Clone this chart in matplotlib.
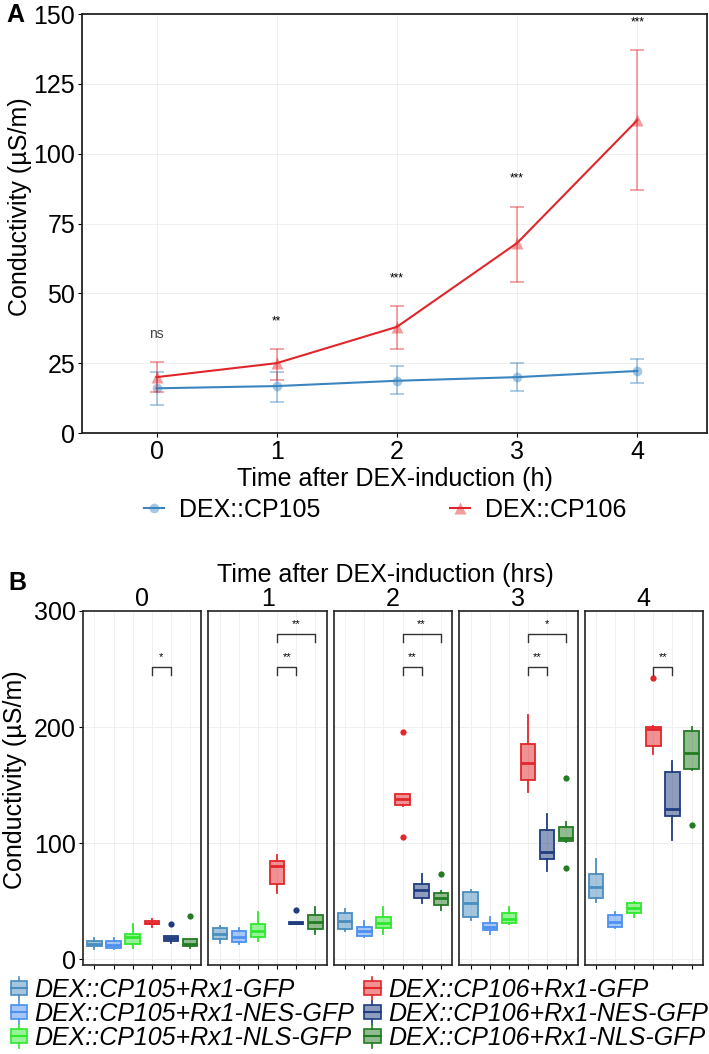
import matplotlib.pyplot as plt
from matplotlib.lines import Line2D
from matplotlib.patches import Rectangle
from matplotlib.legend_handler import HandlerBase
import matplotlib.colors as mcolors

plt.rcParams['font.family'] = ['Liberation Sans', 'DejaVu Sans']

# ---- panel A: mean conductivity over time
hours = [0, 1, 2, 3, 4]
cp105_mean = [16, 16.8, 18.7, 20, 22.2]
cp105_lo = [10, 11, 14, 15, 18]
cp105_hi = [22, 22, 24, 25, 26.5]
cp106_mean = [20, 25, 38, 68, 112]
cp106_lo = [14.5, 19, 30, 54, 87]
cp106_hi = [25.5, 30, 45.5, 81, 137]
signif_a = ['ns', '**', '***', '***', '***']

# ---- panel B: boxplots (whislo, q1, med, q3, whishi) per hour
groups = ['DEX::CP105+Rx1-GFP', 'DEX::CP105+Rx1-NES-GFP', 'DEX::CP105+Rx1-NLS-GFP',
          'DEX::CP106+Rx1-GFP', 'DEX::CP106+Rx1-NES-GFP', 'DEX::CP106+Rx1-NLS-GFP']
cp105_gfp = [(9, 11, 13, 16, 18), (14, 17, 22, 27, 29), (24, 26, 33, 40, 43),
             (34, 36, 48, 58, 60), (49, 53, 62, 73, 86)]
cp105_nes = [(9, 10, 12, 16, 18), (13, 15, 19, 24, 27), (19, 20, 24, 28, 33),
             (22, 25, 28, 31, 36), (27, 28, 32, 38, 41)]
cp105_nls = [(10, 13, 19, 22, 30), (16, 19, 24, 30, 41), (22, 27, 31, 36, 45),
             (30, 31, 35, 40, 45), (36, 40, 44, 48, 49)]
cp106_gfp = [(28, 30, 31, 33, 35), (57, 65, 80, 85, 90), (132, 133, 138, 142, 142),
             (144, 154, 169, 185, 210), (177, 184, 198, 200, 201)]
cp106_nes = [(14, 16, 18, 20, 20), (30, 30, 31, 32, 32), (48, 53, 60, 65, 73),
             (76, 86, 92, 111, 125), (103, 123, 129, 161, 171)]
cp106_nls = [(10, 11, 13, 17, 17), (22, 26, 32, 38, 45), (42, 47, 53, 57, 59),
             (101, 102, 104, 114, 118), (163, 164, 178, 197, 200)]
no_out = [[], [], [], [], []]
cp106_gfp_out = [[], [], [196, 105], [], [242]]
cp106_nes_out = [[30], [42], [], [], []]
cp106_nls_out = [[37], [], [73], [156, 79], [116]]
signif_b = [[(4, 5, '*')],
            [(4, 5, '**'), (4, 6, '**')],
            [(4, 5, '**'), (4, 6, '**')],
            [(4, 5, '**'), (4, 6, '*')],
            [(4, 5, '**')]]

box_data = [cp105_gfp, cp105_nes, cp105_nls, cp106_gfp, cp106_nes, cp106_nls]
box_out = [no_out, no_out, no_out, cp106_gfp_out, cp106_nes_out, cp106_nls_out]
box_colors = ['#4A8DBE', '#4D90F0', '#2EE82E', '#E3262B', '#1F3D7F', '#237B23']

blue = '#3A85C0'
red = '#E0252B'
FS = 18

fig = plt.figure(figsize=(7.09, 10.54), dpi=100)

# ================= panel A
axA = fig.add_axes([82 / 709, 1 - 433 / 1054, 625 / 709, 419 / 1054])
for mean, lo, hi, c, m, ms in [(cp105_mean, cp105_lo, cp105_hi, blue, 'o', 7),
                               (cp106_mean, cp106_lo, cp106_hi, red, '^', 8)]:
    yerr = [[a - b for a, b in zip(mean, lo)], [b - a for a, b in zip(mean, hi)]]
    axA.errorbar(hours, mean, yerr=yerr, fmt='none', ecolor=c, alpha=0.45,
                 elinewidth=1.3, capsize=4.8, capthick=1.3)
    axA.plot(hours, mean, color=c, lw=1.5, marker=m, ms=ms,
             mfc=mcolors.to_rgba(c, 0.45), mec='none')

for x, hi, lab in zip(hours, cp106_hi, signif_a):
    axA.text(x, hi + 10, lab, ha='center', va='center',
             fontsize=10 if lab == 'ns' else 8.5,
             color='#444444' if lab == 'ns' else 'black')

axA.set_xlim(-0.62, 4.58)
axA.set_ylim(0, 150)
axA.set_yticks([0, 25, 50, 75, 100, 125, 150])
axA.set_xticks(hours)
axA.grid(color='#EDEDED', lw=0.6)
axA.set_axisbelow(True)
axA.tick_params(labelsize=FS, length=3, width=0.8, pad=2)
for s in axA.spines.values():
    s.set_linewidth(1.3)
    s.set_color('#222222')
axA.set_xlabel('Time after DEX-induction (h)', fontsize=FS, labelpad=2)
axA.set_ylabel('Conductivity (µS/m)', fontsize=FS)
axA.yaxis.set_label_coords(-0.08, 0.54)

handlesA = [Line2D([], [], color=blue, lw=1.5, marker='o', ms=7,
                   mfc=mcolors.to_rgba(blue, 0.45), mec='none'),
            Line2D([], [], color=red, lw=1.5, marker='^', ms=8,
                   mfc=mcolors.to_rgba(red, 0.45), mec='none')]
fig.legend(handlesA, ['DEX::CP105', 'DEX::CP106'], loc='center',
           bbox_to_anchor=(0.543, 1 - 510 / 1054), ncol=2, frameon=False,
           fontsize=FS, handlelength=0.8, handletextpad=0.6, columnspacing=5.2)
fig.text(0.022, 0.986, 'A', fontsize=FS, fontweight='bold', ha='center', va='center')

# ================= panel B
left, right = 83 / 709, 703 / 709
top, bottom = 1 - 611 / 1054, 1 - 965 / 1054
gap = 7 / 709
w = (right - left - 4 * gap) / 5
axesB = []
for k in range(5):
    ax = fig.add_axes([left + k * (w + gap), bottom, w, top - bottom])
    axesB.append(ax)
    for g in range(6):
        lo_w, q1, med, q3, hi_w = box_data[g][k]
        st = [dict(whislo=lo_w, q1=q1, med=med, q3=q3, whishi=hi_w, fliers=box_out[g][k])]
        c = box_colors[g]
        ax.bxp(st, positions=[g + 1], widths=0.75, patch_artist=True,
               showcaps=False, manage_ticks=False,
               boxprops=dict(facecolor=mcolors.to_rgba(c, 0.5), edgecolor=c, lw=1.3),
               medianprops=dict(color=c, lw=2),
               whiskerprops=dict(color=c, lw=1.3),
               flierprops=dict(marker='o', ms=4.5, mfc=c, mec='none'))
    for x1, x2, lab in signif_b[k]:
        yb = 252 if x2 - x1 == 1 else 280
        ax.plot([x1, x1, x2, x2], [yb - 7, yb, yb, yb - 7], color='#333333', lw=1)
        ax.text((x1 + x2) / 2, yb + 4, lab, ha='center', va='bottom', fontsize=8)
    ax.set_xlim(0.4, 6.6)
    ax.set_ylim(-5, 300)
    ax.set_xticks(range(1, 7))
    ax.set_xticklabels([])
    ax.set_yticks([0, 100, 200, 300])
    ax.grid(color='#EDEDED', lw=0.6)
    ax.set_axisbelow(True)
    ax.tick_params(labelsize=FS, length=3, width=0.8, pad=2)
    for s in ax.spines.values():
        s.set_linewidth(1.2)
        s.set_color('#222222')
    ax.set_title(str(hours[k]), fontsize=FS, pad=0)
    if k > 0:
        ax.tick_params(axis='y', left=False, labelleft=False)

axesB[0].set_ylabel('Conductivity (µS/m)', fontsize=FS)
axesB[0].yaxis.set_label_coords(-0.47, 0.5225)
fig.text(0.543, 1 - 575 / 1054, 'Time after DEX-induction (hrs)', fontsize=FS,
         ha='center', va='center')
fig.text(0.025, 1 - 583 / 1054, 'B', fontsize=FS, fontweight='bold', ha='center', va='center')


class BoxKey(HandlerBase):
    def create_artists(self, legend, orig, xd, yd, wd, ht, fontsize, trans):
        ec = orig.get_edgecolor()
        fc = orig.get_facecolor()
        cx = xd + wd / 2
        r = Rectangle((xd, yd + ht * 0.1), wd, ht * 0.8, facecolor=fc, edgecolor=ec,
                      lw=1.2, transform=trans)
        med = Line2D([xd, xd + wd], [yd + ht / 2] * 2, color=ec, lw=1.5, transform=trans)
        w1 = Line2D([cx, cx], [yd - ht * 0.15, yd + ht * 0.1], color=ec, lw=1.2, transform=trans)
        w2 = Line2D([cx, cx], [yd + ht * 0.9, yd + ht * 1.15], color=ec, lw=1.2, transform=trans)
        return [r, med, w1, w2]


handlesB = [Rectangle((0, 0), 1, 1, facecolor=mcolors.to_rgba(c, 0.5), edgecolor=c)
            for c in box_colors]
legB = fig.legend(handlesB, groups, loc='center left', bbox_to_anchor=(0.015, 1 - 1014 / 1054),
                  ncol=2, frameon=False, prop=dict(size=FS, style='italic'),
                  handlelength=0.65, handletextpad=0.3, columnspacing=0.4,
                  labelspacing=0.0, borderpad=0, borderaxespad=0,
                  handler_map={Rectangle: BoxKey()})

fig.savefig('out.png', dpi=100)
